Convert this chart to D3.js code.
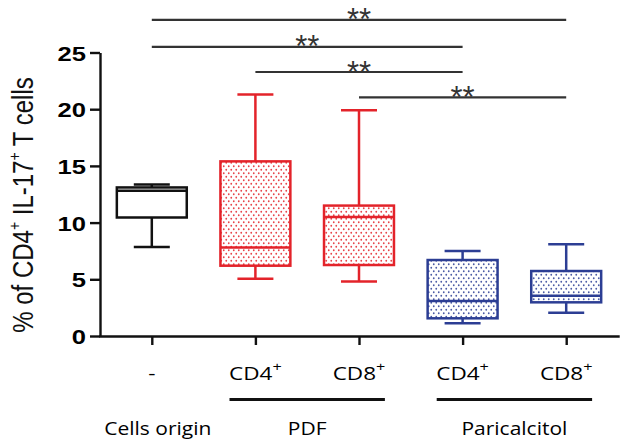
<!DOCTYPE html>
<html>
<head>
<meta charset="utf-8">
<script src="https://cdn.jsdelivr.net/npm/d3@7"></script>
<style>
  html, body { margin: 0; padding: 0; background: #fff; }
  svg { display: block; }
</style>
</head>
<body>
<svg id="chart" width="626" height="447"></svg>
<script>
// ---- data ----
const categories = ["none", "PDF CD4", "PDF CD8", "Paricalcitol CD4", "Paricalcitol CD8"];
const tickLabels = ["-", "CD4", "CD8", "CD4", "CD8"];
const tickSups = ["", "+", "+", "+", "+"];
const mins    = [7.85, 5.05, 4.8, 1.12, 2.06];
const q1s     = [10.45, 6.2, 6.26, 1.56, 2.97];
const medians = [12.8, 7.8, 10.5, 3.09, 3.55];
const q3s     = [13.1, 15.4, 11.5, 6.7, 5.73];
const maxs    = [13.35, 21.3, 19.9, 7.5, 8.1];
const boxColors = ["#111111", "#e3232a", "#e3232a", "#2c3e94", "#2c3e94"];
const boxPatterned = [false, true, true, true, true];
const yTicks = [0, 5, 10, 15, 20, 25];
const groupNames = ["Cells origin", "PDF", "Paricalcitol"];
const groupMembers = [[0], [1, 2], [3, 4]];
const groupUnderlined = [false, true, true];
const sigFrom = [0, 0, 1, 2];
const sigTo   = [4, 3, 3, 4];
const sigLevel = [27.87, 25.5, 23.28, 21.05];
const sigText = ["**", "**", "**", "**"];

// ---- chart ----
const svg = d3.select("#chart");
const x = d3.scalePoint().domain(d3.range(categories.length)).range([100, 618]).padding(0.5);
const y = d3.scaleLinear().domain([0, 25]).range([336, 52.5]);
const boxW = x.step() * 0.675;
const capW = 36;

// patterns
const defs = svg.append("defs");
const uniqueColors = Array.from(new Set(boxColors));
uniqueColors.forEach((c, i) => {
  const p = defs.append("pattern").attr("id", "dots" + i)
    .attr("patternUnits", "userSpaceOnUse").attr("width", 5).attr("height", 7);
  p.append("rect").attr("width", 5).attr("height", 7).attr("fill", "#fff");
  p.append("circle").attr("cx", 1.25).attr("cy", 1.75).attr("r", 0.9).attr("fill", c).attr("opacity", 0.85);
  p.append("circle").attr("cx", 3.75).attr("cy", 5.25).attr("r", 0.9).attr("fill", c).attr("opacity", 0.85);
});
const patId = c => "url(#dots" + uniqueColors.indexOf(c) + ")";

// y axis
const yAxis = svg.append("g").attr("transform", "translate(100,0)")
  .call(d3.axisLeft(y).tickValues(yTicks).tickSize(10).tickSizeOuter(0));
yAxis.select(".domain").attr("stroke", "#111").attr("stroke-width", 2.4);
yAxis.selectAll(".tick line").attr("stroke", "#111").attr("stroke-width", 2.4);
yAxis.selectAll(".tick text")
  .attr("x", 0).attr("dy", null)
  .attr("transform", "translate(-14,7.5) scale(1.28,1)")
  .attr("text-anchor", "end")
  .attr("fill", "#000")
  .style("font-family", "'Liberation Sans', Arial, sans-serif")
  .style("font-weight", "bold")
  .style("font-size", "20px");

// x axis
const xAxis = svg.append("g").attr("transform", "translate(0,336)")
  .call(d3.axisBottom(x).tickSize(9).tickSizeOuter(0).tickFormat(""));
xAxis.select(".domain").attr("stroke", "#111").attr("stroke-width", 2.4).attr("stroke-linecap", "square");
xAxis.selectAll(".tick line").attr("stroke", "#111").attr("stroke-width", 2.4);

// boxes
const boxes = svg.append("g");
categories.forEach((cat, i) => {
  const cx = x(i), c = boxColors[i];
  const g = boxes.append("g").attr("stroke", c).attr("stroke-width", 2.5).attr("fill", "none");
  g.append("line").attr("x1", cx).attr("x2", cx).attr("y1", y(mins[i])).attr("y2", y(q1s[i]));
  g.append("line").attr("x1", cx).attr("x2", cx).attr("y1", y(q3s[i])).attr("y2", y(maxs[i]));
  g.append("line").attr("x1", cx - capW / 2).attr("x2", cx + capW / 2).attr("y1", y(mins[i])).attr("y2", y(mins[i]));
  g.append("line").attr("x1", cx - capW / 2).attr("x2", cx + capW / 2).attr("y1", y(maxs[i])).attr("y2", y(maxs[i]));
  g.append("rect").attr("x", cx - boxW / 2).attr("width", boxW)
    .attr("y", y(q3s[i])).attr("height", y(q1s[i]) - y(q3s[i]))
    .attr("fill", boxPatterned[i] ? patId(c) : "#fff");
  g.append("line").attr("x1", cx - boxW / 2).attr("x2", cx + boxW / 2).attr("y1", y(medians[i])).attr("y2", y(medians[i]));
});

// significance bars
const sig = svg.append("g");
sigFrom.forEach((f, k) => {
  const x1 = x(f), x2 = x(sigTo[k]), yy = y(sigLevel[k]);
  sig.append("line").attr("x1", x1).attr("x2", x2).attr("y1", yy).attr("y2", yy)
    .attr("stroke", "#333").attr("stroke-width", 2.2);
  sig.append("text").attr("x", (x1 + x2) / 2).attr("y", yy + 10.5)
    .attr("text-anchor", "middle").attr("fill", "#333")
    .style("font-family", "'Liberation Sans', Arial, sans-serif")
    .style("font-size", "31px")
    .text(sigText[k]);
});

// y label
const yl = svg.append("text")
  .attr("transform", "translate(33,205) rotate(-90) scale(1,1.2)")
  .attr("text-anchor", "middle").attr("fill", "#111")
  .style("font-family", "'Liberation Sans', Arial, sans-serif")
  .style("font-size", "24px");
yl.append("tspan").text("% of CD4");
yl.append("tspan").attr("dy", -11).style("font-size", "14px").text("+");
yl.append("tspan").attr("dy", 11).text(" IL-17");
yl.append("tspan").attr("dy", -11).style("font-size", "14px").text("+");
yl.append("tspan").attr("dy", 11).text(" T cells");

// category labels
const bottomFont = "'Open Sans', 'Noto Sans', sans-serif";
categories.forEach((cat, i) => {
  const t = svg.append("text")
    .attr("transform", `translate(${x(i)},380) scale(1.25,1)`)
    .attr("text-anchor", "middle").attr("fill", "#000")
    .style("font-family", bottomFont).style("font-size", "18px");
  t.append("tspan").text(tickLabels[i]);
  if (tickSups[i]) t.append("tspan").attr("dy", -9).style("font-size", "13px").text(tickSups[i]);
});

// group underlines & names
groupNames.forEach((name, gi) => {
  const mem = groupMembers[gi];
  const xs = mem.map(m => x(m));
  const cx = d3.mean(xs);
  if (groupUnderlined[gi]) {
    svg.append("line")
      .attr("x1", d3.min(xs) - x.step() * 0.25).attr("x2", d3.max(xs) + x.step() * 0.25)
      .attr("y1", 399.5).attr("y2", 399.5)
      .attr("stroke", "#111").attr("stroke-width", 3);
  }
  svg.append("text")
    .attr("transform", `translate(${gi === 0 ? cx + 6 : cx},435) scale(1.2,1)`)
    .attr("text-anchor", "middle").attr("fill", "#000")
    .style("font-family", bottomFont).style("font-size", "17.5px")
    .text(name);
});
</script>
</body>
</html>
